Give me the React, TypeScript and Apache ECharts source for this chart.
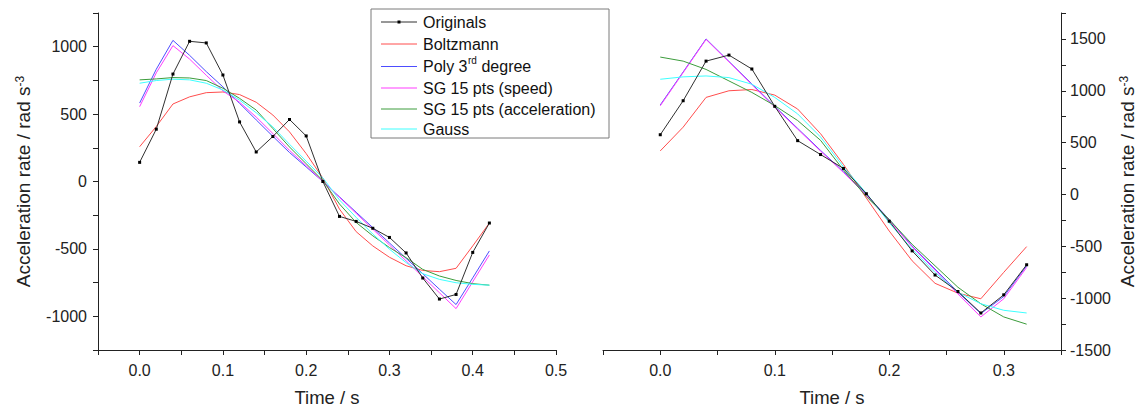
import React, { useEffect, useRef } from "react";
import * as echarts from "echarts";

const FONT = '"Liberation Sans", Arial, Helvetica, sans-serif';

// ---- data ----
const seriesNames = [
  "Originals",
  "Boltzmann",
  "Poly 3rd degree",
  "SG 15 pts (speed)",
  "SG 15 pts (acceleration)",
  "Gauss",
];
const seriesColors = ["#303030", "#ff4d4d", "#4d4dff", "#ff3dff", "#3c9c3c", "#3dffff"];

const timeLeft = [0, 0.02, 0.04, 0.06, 0.08, 0.1, 0.12, 0.14, 0.16, 0.18, 0.2, 0.22, 0.24, 0.26, 0.28, 0.3, 0.32, 0.34, 0.36, 0.38, 0.4, 0.42];
const origLeft = [142, 388, 797, 1040, 1028, 790, 442, 219, 334, 460, 338, 0, -259, -296, -347, -415, -530, -716, -872, -838, -526, -308];
const boltzLeft = [258, 408, 575, 628, 659, 664, 645, 588, 493, 368, 207, 25, -205, -372, -478, -562, -625, -660, -669, -644, -478, -308];
const polyLeft = [582, 833, 1047, 936, 815, 702, 580, 457, 335, 215, 108, 0, -114, -228, -342, -456, -570, -684, -799, -913, -715, -515];
const sgSpeedLeft = [555, 806, 1008, 908, 788, 672, 588, 478, 356, 231, 117, 0, -118, -236, -354, -471, -589, -707, -825, -943, -744, -545];
const sgAccLeft = [754, 761, 771, 768, 749, 692, 617, 530, 393, 256, 132, 7, -167, -304, -403, -490, -565, -652, -701, -734, -758, -769];
const gaussLeft = [729, 749, 759, 754, 729, 679, 604, 510, 405, 276, 151, 27, -137, -266, -390, -502, -602, -684, -726, -751, -763, -769];

const timeRight = [0, 0.02, 0.04, 0.06, 0.08, 0.1, 0.12, 0.14, 0.16, 0.18, 0.2, 0.22, 0.24, 0.26, 0.28, 0.3, 0.32];
const origRight = [576, 904, 1286, 1344, 1210, 850, 519, 385, 251, 7, -258, -544, -777, -936, -1143, -968, -678];
const boltzRight = [420, 649, 936, 1000, 1012, 958, 824, 586, 290, -35, -353, -640, -857, -952, -1006, -751, -503];
const polyRight = [863, 1181, 1500, 1283, 1066, 850, 637, 425, 220, -3, -242, -497, -719, -943, -1149, -984, -688];
const sgSpeedRight = [855, 1175, 1495, 1278, 1060, 842, 630, 418, 212, -8, -250, -505, -730, -960, -1181, -1006, -704];
const sgAccRight = [1325, 1286, 1206, 1095, 984, 857, 713, 522, 236, -20, -242, -481, -688, -895, -1054, -1181, -1251];
const gaussRight = [1111, 1134, 1143, 1127, 1063, 936, 777, 554, 267, 13, -274, -528, -752, -943, -1054, -1117, -1143];

const xTitle = "Time / s";
const yTitle = "Acceleration rate / rad s{sup|-3}";

const leftSets = [origLeft, boltzLeft, polyLeft, sgSpeedLeft, sgAccLeft, gaussLeft];
const rightSets = [origRight, boltzRight, polyRight, sgSpeedRight, sgAccRight, gaussRight];

const AX = "#222";

function xLabel(v: number) {
  const k = Math.round(v * 100);
  return k % 10 === 0 ? (k / 100).toFixed(1) : "";
}
function yLabel(v: number) {
  const r = Math.round(v);
  return r % 500 === 0 ? String(r) : "";
}

function makeSeries(times: number[], sets: number[][], gi: number) {
  return sets.map((vals, i) => ({
    name: seriesNames[i],
    type: "line",
    xAxisIndex: gi,
    yAxisIndex: gi,
    data: times.map((t, j) => [t, vals[j]]),
    showSymbol: i === 0,
    symbol: "rect",
    symbolSize: 3,
    itemStyle: { color: i === 0 ? "#000" : seriesColors[i] },
    lineStyle: { color: seriesColors[i], width: 1 },
    z: i === 0 ? 3 : 2,
    silent: true,
  }));
}

function xAxisCfg(gi: number, max: number) {
  return {
    type: "value",
    gridIndex: gi,
    min: -0.05,
    max,
    interval: 0.05,
    position: "bottom",
    axisLine: { show: true, onZero: false, lineStyle: { color: AX, width: 1 } },
    axisTick: { show: true, inside: false, length: 5, lineStyle: { color: AX } },
    axisLabel: { formatter: xLabel, fontSize: 16, color: "#222", margin: 12, fontFamily: FONT },
    splitLine: { show: false },
    name: xTitle,
    nameLocation: "middle",
    nameGap: 38,
    nameTextStyle: { fontSize: 18.5, lineHeight: 18, color: "#222", fontFamily: FONT },
  };
}

function yAxisCfg(gi: number, min: number, max: number, pos: string, gap: number) {
  return {
    type: "value",
    gridIndex: gi,
    min,
    max,
    interval: 250,
    position: pos,
    axisLine: { show: true, onZero: false, lineStyle: { color: AX, width: 1 } },
    axisTick: { show: true, inside: false, length: 5, lineStyle: { color: AX } },
    axisLabel: { formatter: yLabel, fontSize: 16, color: "#222", margin: pos === "left" ? 11 : 9, fontFamily: FONT },
    splitLine: { show: false },
    name: yTitle,
    nameLocation: "middle",
    nameRotate: 90,
    nameGap: gap,
    nameTextStyle: {
      fontSize: 19,
      color: "#222",
      fontFamily: FONT,
      rich: { sup: { fontSize: 12, verticalAlign: "top", color: "#222", fontFamily: FONT } },
    },
  };
}

function legendGraphic() {
  const bx = 371;
  const by = 9;
  const rowOffsets = [13, 35, 57.5, 79, 100, 120];
  const children: any[] = [
    {
      type: "rect",
      shape: { x: bx, y: by, width: 238, height: 129 },
      style: { fill: "#fff", stroke: "#7a7a7a", lineWidth: 1 },
    },
  ];
  seriesNames.forEach((name, i) => {
    const y = by + rowOffsets[i];
    children.push({
      type: "line",
      shape: { x1: bx + 10, y1: y, x2: bx + 46, y2: y },
      style: { stroke: seriesColors[i], lineWidth: 1 },
    });
    if (i === 0) {
      children.push({
        type: "rect",
        shape: { x: bx + 26.5, y: y - 1.5, width: 3, height: 3 },
        style: { fill: "#000" },
      });
    }
    const tx = bx + 52;
    if (name.indexOf("3rd") >= 0) {
      const parts = name.split("3rd");
      children.push({
        type: "text",
        x: tx,
        y,
        style: { text: parts[0] + "3", font: `16px ${FONT}`, fill: "#111", verticalAlign: "middle", align: "left" },
      });
      children.push({
        type: "text",
        x: tx + 45,
        y: y - 6,
        style: { text: "rd", font: `10px ${FONT}`, fill: "#111", verticalAlign: "middle", align: "left" },
      });
      children.push({
        type: "text",
        x: tx + 54,
        y,
        style: { text: parts[1], font: `16px ${FONT}`, fill: "#111", verticalAlign: "middle", align: "left" },
      });
    } else {
      children.push({
        type: "text",
        x: tx,
        y,
        style: { text: name, font: `16px ${FONT}`, fill: "#111", verticalAlign: "middle", align: "left" },
      });
    }
  });
  return [{ type: "group", children, z: 100 }];
}

export default function App() {
  const ref = useRef<HTMLDivElement>(null);
  useEffect(() => {
    if (!ref.current) return;
    const chart = echarts.init(ref.current, null, { renderer: "svg" });
    chart.setOption({
      animation: false,
      backgroundColor: "#ffffff",
      textStyle: { fontFamily: FONT },
      grid: [
        { left: 98, top: 13, width: 458, height: 337, containLabel: false, outerBoundsMode: "none" },
        { left: 603, top: 13, width: 458, height: 337, containLabel: false, outerBoundsMode: "none" },
      ],
      xAxis: [xAxisCfg(0, 0.5), xAxisCfg(1, 0.35)],
      yAxis: [yAxisCfg(0, -1250, 1250, "left", 65), yAxisCfg(1, -1500, 1750, "right", 57)],
      series: [...makeSeries(timeLeft, leftSets, 0), ...makeSeries(timeRight, rightSets, 1)],
      graphic: legendGraphic(),
    });
    return () => chart.dispose();
  }, []);
  return (
    <div
      ref={ref}
      style={{ position: "fixed", left: 0, top: 0, width: 1141, height: 407, background: "#fff" }}
    />
  );
}
